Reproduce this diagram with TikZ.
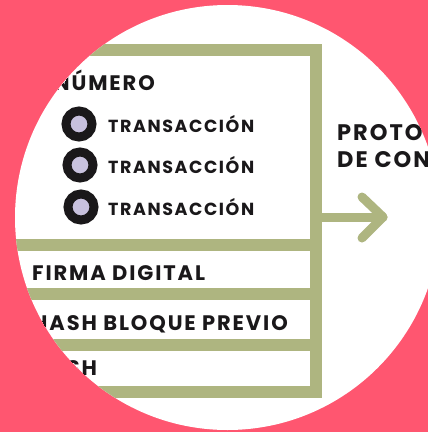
\documentclass[tikz,border=0pt]{standalone}
\usepackage{fontspec}
\setmainfont{Poppins}[LetterSpace=9]
\definecolor{bgpink}{RGB}{255,86,112}
\definecolor{bargreen}{RGB}{174,181,128}
\definecolor{dotfill}{RGB}{200,193,222}
\definecolor{ink}{RGB}{26,24,26}
\tikzset{
  bar/.style={draw=bargreen, line width=12pt},
  arrowline/.style={draw=bargreen, line width=9pt, line cap=round, line join=round},
  lbl/.style={inner sep=0pt, text=ink, font=\bfseries\fontsize{21}{21}\selectfont},
  txlbl/.style={lbl, font=\bfseries\fontsize{17.5}{17.5}\selectfont},
  sidelbl/.style={lbl, font=\bfseries\fontsize{22.5}{22.5}\selectfont},
  dot/.style={circle, draw=ink, line width=9pt, fill=dotfill, minimum size=26pt, inner sep=0pt},
}
\begin{document}
\begin{tikzpicture}[x=1pt,y=-1pt]
	\useasboundingbox (0,0) rectangle (428,432);
	\fill[bgpink] (0,0) rectangle (428,432);
	\begin{scope}
	\clip (227.5,217.5) circle (212.5);
	\fill[white] (0,0) rectangle (428,432);
	% block frame and separators
	\draw[bar, line join=miter] (-10,50) -- (316,50) -- (316,392) -- (-10,392);
	\draw[bar] (-10,245) -- (316,245);
	\draw[bar] (-10,294) -- (316,294);
	\draw[bar] (-10,345) -- (316,345);
	% labels
	\node (num)  at (155, 90)	[lbl, anchor=base east]	{NÚMERO};
	\node (d1)   at ( 79,124)	[dot]	{};
	\node (d2)   at ( 80,165)	[dot]	{};
	\node (d3)   at ( 81,207)	[dot]	{};
	\node (tx1)  at (108,132)	[txlbl, anchor=base west]	{TRANSACCIÓN};
	\node (tx2)  at (108,173)	[txlbl, anchor=base west]	{TRANSACCIÓN};
	\node (tx3)  at (108,215)	[txlbl, anchor=base west]	{TRANSACCIÓN};
	\node (sig)  at ( 32,280)	[lbl, anchor=base west]	{FIRMA DIGITAL};
	\node (prev) at ( 32,330)	[lbl, anchor=base west]	{HASH BLOQUE PREVIO};
	\node (hash) at ( 32,375)	[lbl, anchor=base west]	{HASH};
	\node (pro1) at (337,140)	[sidelbl, anchor=base west]	{PROTOCOLO};
	\node (pro2) at (337,167)	[sidelbl, anchor=base west]	{DE CONSENSO};
	% arrow to consensus
	\coordinate (arrowstart) at (322,217);
	\coordinate (arrowtip)   at (383,217);
	\coordinate (barbup)     at (362,197);
	\coordinate (barbdown)   at (362,238);
	\draw[arrowline] (arrowstart) -- (arrowtip);
	\draw[arrowline] (barbup) -- (arrowtip) -- (barbdown);
	\end{scope}
\end{tikzpicture}
\end{document}
